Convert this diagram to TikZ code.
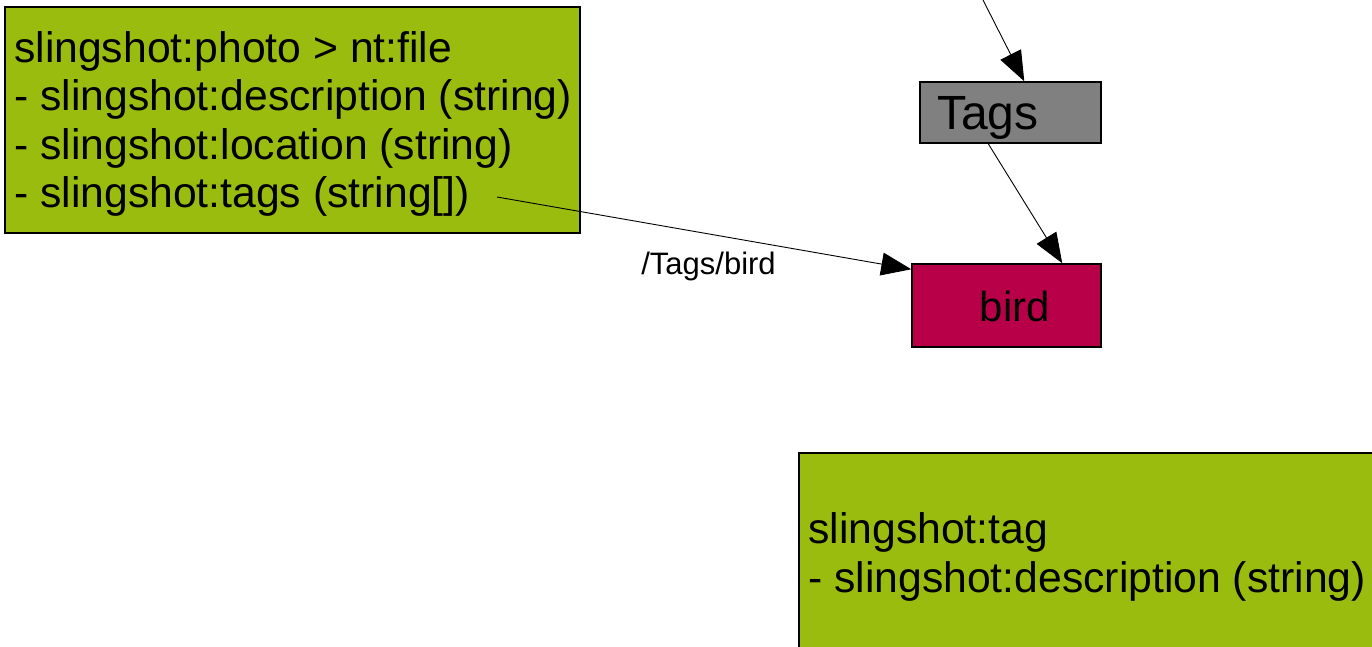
\documentclass[tikz,border=0pt]{standalone}
\usepackage{fontspec}
\setmainfont{Liberation Sans}
\usetikzlibrary{arrows.meta}
\definecolor{boxgreen}{RGB}{153,188,14}
\definecolor{boxgray}{RGB}{128,128,128}
\definecolor{boxred}{RGB}{184,0,72}
\begin{document}
\begin{tikzpicture}[x=1pt,y=-1pt,
  box/.style={draw=black,line width=1.5pt,rectangle,inner ysep=0pt,align=left},
  boxtext/.style={inner sep=0pt,align=left,anchor=west},
  arr/.style={draw=black,line width=0.9pt,-{Triangle[length=30pt,width=23pt]}}]
\useasboundingbox (0,0) rectangle (1372,646);
\node[box,fill=boxgreen,minimum width=575pt,minimum height=226pt] (photo) at (292.5,120) {};
\node[boxtext,font=\fontsize{42.7}{48.3}\selectfont] (photoText) at (14,124)
  {slingshot:photo > nt:file\\- slingshot:description (string)\\- slingshot:location (string)\\- slingshot:tags (string[])};
\node[box,fill=boxgray,minimum width=181pt,minimum height=61pt,inner xsep=17pt,text width=147pt,
  text height=34.4pt,text depth=0pt,
  font=\fontsize{48}{54}\selectfont] (tags) at (1010.5,112.5) {Tags};
\node[box,fill=boxred,minimum width=189pt,minimum height=83pt,inner xsep=0pt,text width=189pt,align=center,
  text height=31pt,text depth=0pt,
  font=\fontsize{42}{48}\selectfont] (bird) at (1006.5,305.5) {\hspace*{17pt}bird};
\node[box,fill=boxgreen,minimum width=581pt,minimum height=201pt] (tagtype) at (1089.5,553.5) {};
\node[boxtext,font=\fontsize{42.7}{49}\selectfont] (tagtypeText) at (808,557)
  {slingshot:tag\\- slingshot:description (string)};
\coordinate (topstart) at (983,0);
\coordinate (tagsprop) at (497,197);
\draw[arr] (topstart) -- ([xshift=105pt]tags.north west);
\draw[arr] ([xshift=69pt]tags.south west) -- ([xshift=151pt]bird.north west);
\draw[arr] (tagsprop) -- ([yshift=-6pt]bird.north west);
\node[font=\fontsize{31}{36}\selectfont,inner sep=0pt] (lbl) at (708.5,266) {/Tags/bird};
\end{tikzpicture}
\end{document}
